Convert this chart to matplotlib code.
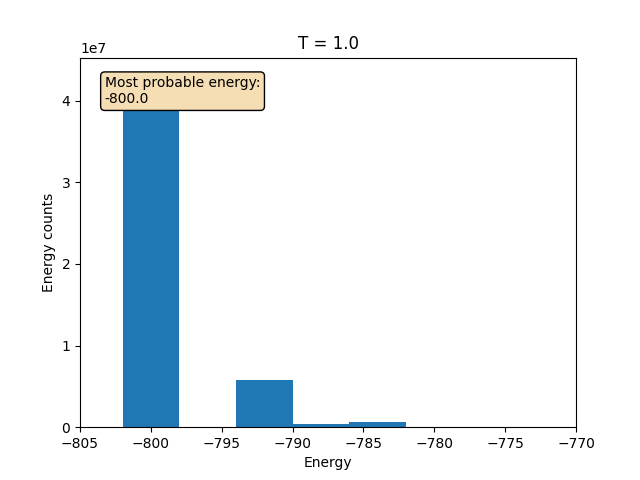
import matplotlib
matplotlib.use("Agg")
import matplotlib.pyplot as plt

energies = [-800, -792, -788, -784]
counts = [4.31e7, 0.575e7, 0.035e7, 0.06e7]

fig, ax = plt.subplots(figsize=(6.4, 4.8), dpi=100)
ax.bar(energies, counts, width=4)
ax.set_xlim(-805, -770)
ax.set_xlabel("Energy")
ax.set_ylabel("Energy counts")
ax.set_title("T = 1.0")
ax.text(0.05, 0.95, "Most probable energy:\n-800.0", transform=ax.transAxes,
        va="top", ha="left",
        bbox=dict(boxstyle="round", facecolor="wheat"))
fig.savefig("out.png")
